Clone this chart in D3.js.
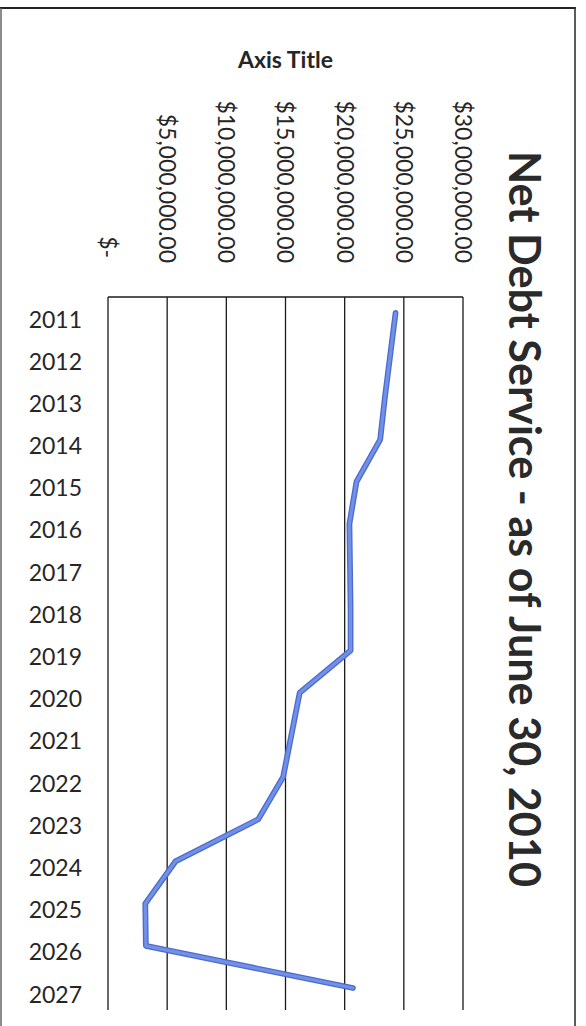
<!DOCTYPE html>
<html>
<head>
<meta charset="utf-8">
<script src="https://cdn.jsdelivr.net/npm/d3@7"></script>
<style>
  html, body { margin: 0; padding: 0; background: #ffffff; }
  svg { display: block; }
</style>
</head>
<body>
<svg id="chart" width="586" height="1026"></svg>
<script>
// ---- data ----
const years = ["2011","2012","2013","2014","2015","2016","2017","2018","2019",
               "2020","2021","2022","2023","2024","2025","2026","2027"];
const netDebtService = [24.3e6, 23.85e6, 23.4e6, 23.0e6, 21.0e6, 20.4e6, 20.45e6, 20.5e6, 20.5e6,
                        16.2e6, 15.5e6, 14.8e6, 12.7e6, 5.7e6, 3.15e6, 3.2e6, 20.7e6];
const valueTicks = [0, 5e6, 10e6, 15e6, 20e6, 25e6, 30e6];
const chartTitle = "Net Debt Service - as of June 30, 2010";
const axisTitle = "Axis Title";

// ---- layout ----
const svg = d3.select("#chart");
const W = 586, H = 1026;
const plot = { left: 108, right: 463, top: 297, bottom: 1010 };
const FONT = "Lato, 'Open Sans', 'DejaVu Sans', sans-serif";

const x = d3.scaleLinear().domain([0, 30e6]).range([plot.left, plot.right]);
const y = d3.scalePoint().domain(years).range([313, 988]);

const fmt = v => v === 0 ? "$-\u2008" : d3.format("$,.2f")(v);

// outer chart border
svg.append("line").attr("x1", 0).attr("x2", 576).attr("y1", 8).attr("y2", 8)
  .attr("stroke", "#222").attr("stroke-width", 2);
svg.append("line").attr("x1", 575).attr("x2", 575).attr("y1", 7).attr("y2", H)
  .attr("stroke", "#333").attr("stroke-width", 1.6);
svg.append("line").attr("x1", 1).attr("x2", 1).attr("y1", 8).attr("y2", H)
  .attr("stroke", "#666").attr("stroke-width", 1.5);

// vertical gridlines (value axis)
svg.append("g").selectAll("line").data(valueTicks).join("line")
  .attr("x1", d => x(d)).attr("x2", d => x(d))
  .attr("y1", plot.top).attr("y2", plot.bottom)
  .attr("stroke", "#1a1a1a").attr("stroke-width", 1.3);

// top axis line
svg.append("line").attr("x1", x(0)).attr("x2", x(30e6))
  .attr("y1", plot.top).attr("y2", plot.top)
  .attr("stroke", "#1a1a1a").attr("stroke-width", 1.6);

// value tick labels (rotated, reading top to bottom)
svg.append("g").selectAll("text").data(valueTicks).join("text")
  .attr("transform", d => `translate(${x(d)},263) rotate(90)`)
  .attr("text-anchor", "end")
  .attr("dy", "0.35em")
  .attr("font-family", FONT).attr("font-size", 23).attr("fill", "#262626")
  .text(fmt);

// axis title
svg.append("text")
  .attr("x", (plot.left + plot.right) / 2).attr("y", 68)
  .attr("text-anchor", "middle")
  .attr("font-family", FONT).attr("font-size", 23).attr("font-weight", "bold")
  .attr("fill", "#262626")
  .text(axisTitle);

// category labels
svg.append("g").selectAll("text").data(years).join("text")
  .attr("x", 82).attr("y", d => y(d) + 6.5)
  .attr("dy", "0.35em")
  .attr("text-anchor", "end")
  .attr("font-family", FONT).attr("font-size", 23).attr("fill", "#262626")
  .text(d => d);

// chart title (rotated)
svg.append("text")
  .attr("transform", `translate(509,519) rotate(90)`)
  .attr("text-anchor", "middle")
  .attr("font-family", FONT).attr("font-size", 43).attr("font-weight", "bold")
  .attr("fill", "#2a2a2a")
  .attr("textLength", 736).attr("lengthAdjust", "spacingAndGlyphs")
  .text(chartTitle);

// data line
const line = d3.line()
  .x(d => x(d))
  .y((d, i) => y(years[i]));

svg.append("path").datum(netDebtService)
  .attr("d", line).attr("fill", "none")
  .attr("stroke", "#4d6bcc").attr("stroke-width", 5.8)
  .attr("stroke-linejoin", "round").attr("stroke-linecap", "round");
svg.append("path").datum(netDebtService)
  .attr("d", line).attr("fill", "none")
  .attr("stroke", "#7190e8").attr("stroke-width", 3.2)
  .attr("stroke-linejoin", "round").attr("stroke-linecap", "round");
</script>
</body>
</html>
